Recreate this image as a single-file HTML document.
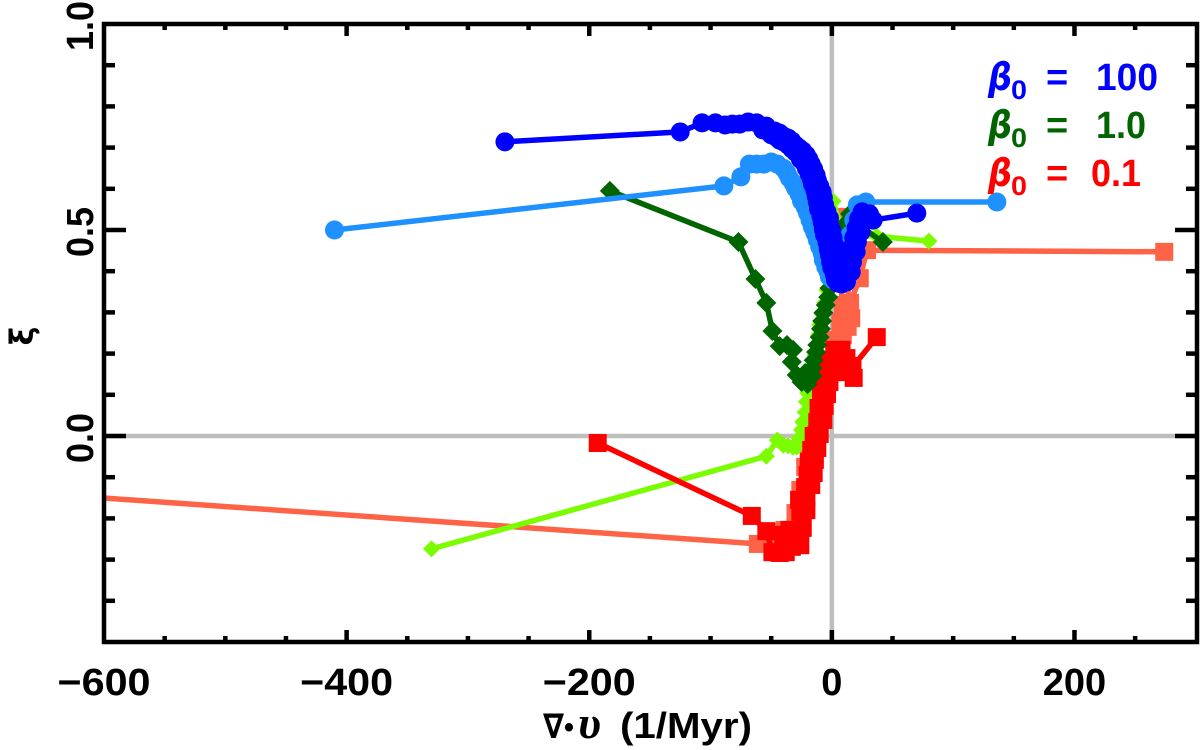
<!DOCTYPE html>
<html lang="en">
<head>
<meta charset="utf-8">
<title>Xi versus velocity divergence</title>
<style>
html,body{margin:0;padding:0;background:#fff;}
svg{display:block;}
text{font-family:"Liberation Sans","DejaVu Sans",sans-serif;font-weight:bold;}
</style>
</head>
<body>
<svg id="chart" xmlns="http://www.w3.org/2000/svg" width="1200" height="750" viewBox="0 0 1200 750">
<defs><clipPath id="plot-clip"><rect x="104" y="24" width="1093" height="618"/></clipPath></defs>
<rect x="0" y="0" width="1200" height="750" fill="#fff"/>
<g id="grid"></g>
<g id="series" clip-path="url(#plot-clip)"></g>
<g id="axes"></g>
<text x="543" y="738" font-size="34" style="font-family:'DejaVu Sans',sans-serif" textLength="21" lengthAdjust="spacingAndGlyphs">∇</text>
<text x="564" y="737" font-size="30" textLength="10" lengthAdjust="spacingAndGlyphs">•</text>
<text x="578" y="738" font-size="46" font-style="italic" style="font-family:'Liberation Serif',serif" textLength="23" lengthAdjust="spacingAndGlyphs">υ</text>
<text x="620" y="738" font-size="36" textLength="132" lengthAdjust="spacingAndGlyphs">(1/Myr)</text>
<text transform="translate(33,336) rotate(-90)" text-anchor="middle" font-size="32" style="font-family:'DejaVu Sans',sans-serif">ξ</text>
<g>
  <g fill="#0000ff">
    <text x="988" y="90" font-size="38" font-style="italic" style="font-family:'DejaVu Sans',sans-serif" textLength="24" lengthAdjust="spacingAndGlyphs">β</text>
    <text x="1011" y="99" font-size="27" textLength="16" lengthAdjust="spacingAndGlyphs">0</text>
    <text x="1046" y="90" font-size="38">=</text>
    <text x="1096" y="90" font-size="38" textLength="62" lengthAdjust="spacingAndGlyphs">100</text>
  </g>
  <g fill="#006400">
    <text x="988" y="138" font-size="38" font-style="italic" style="font-family:'DejaVu Sans',sans-serif" textLength="24" lengthAdjust="spacingAndGlyphs">β</text>
    <text x="1011" y="147" font-size="27" textLength="16" lengthAdjust="spacingAndGlyphs">0</text>
    <text x="1046" y="138" font-size="38">=</text>
    <text x="1096" y="138" font-size="38" textLength="50" lengthAdjust="spacingAndGlyphs">1.0</text>
  </g>
  <g fill="#ff0000">
    <text x="988" y="186" font-size="38" font-style="italic" style="font-family:'DejaVu Sans',sans-serif" textLength="24" lengthAdjust="spacingAndGlyphs">β</text>
    <text x="1011" y="195" font-size="27" textLength="16" lengthAdjust="spacingAndGlyphs">0</text>
    <text x="1046" y="186" font-size="38">=</text>
    <text x="1091" y="186" font-size="38" textLength="50" lengthAdjust="spacingAndGlyphs">0.1</text>
  </g>
</g>
</svg>
<script>
const xTickLabels = ["\u2212600", "\u2212400", "\u2212200", "0", "200"];
const xTickValues = [-600, -400, -200, 0, 200];
const yTickLabels = ["0.0", "0.5", "1.0"];
const yTickValues = [0, 0.5, 1];

const blueHighX = [-269.5,-125,-107,-96,-88,-82,-76,-69,-62,-54,-57,-47,-50,-43,-46,-40,-43,-36,-40,-33,-36,-30,-33,-27,-30,-24,-27,-21,-26,-19,-23,-17,-21,-15,-19,-13,-17,-12,-16,-10,-14,-8,-13,-7,-12,-6,-11,-4,-9,-2,-8,-2,-7,0,-6,1,-4,2,-3,2,-2,4,-1,5,0,6,2,7,3,8,5,8,12,11,16,12,17,14,20,16,21,18,24,20,26,22,28,25,31,34,70];
const blueHighY = [.714,.738,.760,.760,.755,.757,.757,.762,.760,.752,.743,.740,.731,.735,.726,.728,.718,.723,.714,.716,.706,.706,.697,.699,.689,.692,.682,.682,.672,.672,.663,.660,.650,.648,.638,.633,.624,.621,.612,.607,.597,.592,.583,.578,.568,.561,.551,.544,.534,.529,.519,.512,.502,.498,.488,.481,.471,.464,.454,.449,.439,.432,.422,.417,.408,.403,.393,.388,.379,.374,.371,.369,.374,.386,.398,.408,.422,.432,.447,.456,.471,.481,.495,.505,.519,.527,.539,.544,.539,.524,.541];

const blueLightX = [-410,-89,-75,-68,-62,-56,-50,-45,-40,-37,-35,-32,-30,-27,-25,-22,-20,-18,-16,-14,-12,-10,-8,-7,-5,-3,-2,1,5,11,15,18,21,28,136];
const blueLightY = [.500,.607,.629,.660,.660,.660,.665,.660,.650,.638,.626,.614,.602,.587,.570,.556,.541,.524,.507,.493,.476,.459,.444,.427,.410,.398,.386,.379,.403,.439,.488,.524,.561,.568,.568];

const greenDarkX = [-183,-77,-63,-54,-49,-43,-37,-32,-33,-29,-25,-20,-22,-16,-16,-15,-13,-12,-10,-9,-8,-7,-5,-3,-2,-1,1,2,4,7,9,12,15,20,23,42];
const greenDarkY = [.595,.471,.381,.323,.255,.218,.221,.209,.180,.148,.131,.126,.153,.146,.165,.184,.204,.221,.240,.260,.279,.299,.318,.337,.359,.383,.408,.432,.456,.481,.500,.517,.539,.529,.510,.471];

const greenLightX = [-330,-54,-45,-40,-36,-32,-29,-27,-25,-24,-22,-21,-20,-18,-16,-15,-14,-13,-11,-10,-8,-6,-4,-2,-1,0,1,7,15,37,80];
const greenLightY = [-.274,-.049,-.010,-.022,-.024,-.027,-.027,-.005,.015,.034,.058,.083,.104,.124,.148,.172,.197,.221,.245,.270,.296,.323,.354,.388,.425,.460,.570,.512,.488,.485,.473];

const salmonX = [-1000,-61,-49,-39,-30,-26,-22,-19,-14,-8,-3,2,9,7,13,12,16,15,9,5,4,9,15,23,29,274];
const salmonY = [-.068,-.262,-.272,-.228,-.187,-.131,-.075,-.027,.039,.112,.172,.233,.245,.277,.265,.301,.286,.320,.318,.427,.532,.427,.323,.383,.451,.447];

const redX = [-193,-66,-54,-49,-43,-38,-40,-35,-33,-26,-29,-24,-26,-21,-27,-21,-22,-17,-20,-15,-19,-14,-17,-12,-15,-10,-12,-7,-11,-6,-9,-4,-7,-2,-5,0,-2,3,2,8,12,17,12,18,15,37];
const redY = [-.017,-.194,-.231,-.282,-.284,-.282,-.240,-.228,-.269,-.265,-.228,-.223,-.184,-.180,-.155,-.150,-.124,-.119,-.095,-.090,-.063,-.058,-.034,-.029,0,.005,.034,.039,.068,.073,.097,.102,.126,.131,.155,.160,.184,.189,.209,.209,.189,.170,.155,.141,.160,.240];

const NS = "http://www.w3.org/2000/svg";
const PLOT_LEFT = 104, PLOT_RIGHT = 1197, PLOT_TOP = 24, PLOT_BOTTOM = 642;
function xScale(v) { return PLOT_LEFT + (v + 600) * (PLOT_RIGHT - PLOT_LEFT) / 901; }
function yScale(v) { return PLOT_BOTTOM - (v + 0.5) * (PLOT_BOTTOM - PLOT_TOP) / 1.5; }

function make(tag, attrs, parent) {
  const el = document.createElementNS(NS, tag);
  for (const k in attrs) el.setAttribute(k, attrs[k]);
  parent.appendChild(el);
  return el;
}

const grid = document.getElementById("grid");
const gridV = make("line", {x1:xScale(0), x2:xScale(0), y1:PLOT_TOP, y2:PLOT_BOTTOM, stroke:"#bebebe", "stroke-width":4.5}, grid);


const gridH = make("line", {x1:PLOT_LEFT, x2:PLOT_RIGHT, y1:yScale(0), y2:yScale(0), stroke:"#bebebe", "stroke-width":4.5}, grid);



const seriesGroup = document.getElementById("series");
function drawSeries(name, xs, ys, color, shape, size) {
  const g = make("g", {}, seriesGroup);
  
  
  const pts = xs.map((x, i) => xScale(x).toFixed(1) + "," + yScale(ys[i]).toFixed(1)).join(" ");
  const line = make("polyline", {points:pts, fill:"none", stroke:color, "stroke-width":5.5, "stroke-linejoin":"round"}, g);
  
  
  xs.forEach((x, i) => {
    const px = xScale(x), py = yScale(ys[i]);
    let mark;
    if (shape === "circle") {
      mark = make("circle", {cx:px, cy:py, r:size, fill:color}, g);
    } else if (shape === "square") {
      mark = make("rect", {x:px - size, y:py - size, width:size * 2, height:size * 2, fill:color}, g);
    } else {
      const d = [[px, py - size], [px + size, py], [px, py + size], [px - size, py]].map(p => p.join(",")).join(" ");
      mark = make("polygon", {points:d, fill:color}, g);
    }
    
    
  });
}
drawSeries("series-salmon-squares", salmonX, salmonY, "#ff6347", "square", 9);
drawSeries("series-lightgreen-diamonds", greenLightX, greenLightY, "#7cfc00", "diamond", 8.5);
drawSeries("series-red-squares", redX, redY, "#ff0000", "square", 9);
drawSeries("series-darkgreen-diamonds", greenDarkX, greenDarkY, "#006400", "diamond", 10);
drawSeries("series-lightblue-circles", blueLightX, blueLightY, "#1e90ff", "circle", 9.5);
drawSeries("series-blue-circles", blueHighX, blueHighY, "#0000ff", "circle", 9.5);

const axes = document.getElementById("axes");
const frame = make("rect", {x:PLOT_LEFT, y:PLOT_TOP, width:PLOT_RIGHT - PLOT_LEFT, height:PLOT_BOTTOM - PLOT_TOP, fill:"none", stroke:"#000", "stroke-width":4.5}, axes);



function tick(x1, y1, x2, y2, w) {
  const t = make("line", {x1:x1, y1:y1, x2:x2, y2:y2, stroke:"#000", "stroke-width":w}, axes);
  
  
}
for (let v = -550; v <= 250; v += 50) {
  const major = v % 200 === 0;
  const len = major ? 12 : 6;
  const px = xScale(v);
  tick(px, PLOT_BOTTOM, px, PLOT_BOTTOM - len, 4.5);
  tick(px, PLOT_TOP, px, PLOT_TOP + len, 4.5);
}
for (let k = -4; k <= 9; k++) {
  const v = k / 10;
  const major = k % 5 === 0;
  const len = major ? 22 : 11;
  const py = yScale(v);
  tick(PLOT_LEFT, py, PLOT_LEFT + len, py, 4.5);
  tick(PLOT_RIGHT, py, PLOT_RIGHT - len, py, 4.5);
}
xTickLabels.forEach((label, i) => {
  const t = make("text", {x:xScale(xTickValues[i]), y:695, "text-anchor":"middle", "font-size":38}, axes);
  t.textContent = label;
  if (label.length === 4) {
    t.setAttribute('textLength', '93');
    t.setAttribute('lengthAdjust', 'spacingAndGlyphs');
  }
  
  
});
yTickLabels.forEach((label, i) => {
  const py = yScale(yTickValues[i]);
  const t = make("text", {transform:"translate(93," + (py + 2) + ") rotate(-90)", "text-anchor":"middle", "font-size":38, textLength:50, lengthAdjust:"spacingAndGlyphs"}, axes);
  t.textContent = label;
  
  
});
</script>
</body>
</html>
